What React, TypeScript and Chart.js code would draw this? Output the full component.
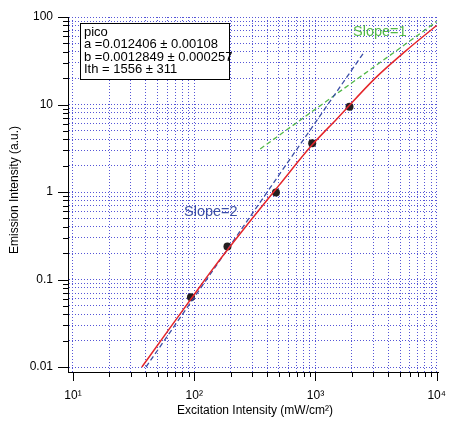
import { useEffect, useRef } from 'react';
import { Chart, registerables } from 'chart.js';

Chart.register(...registerables);

// Measured points
const pointX = [94, 188, 472, 940, 1910];
const pointY = [0.0626, 0.239, 0.99, 3.6, 9.45];

// Fit curve
const fitX = [37, 60, 95, 140, 250, 500, 940, 1500, 3100, 5500, 10000];
const fitY = [0.01, 0.0254, 0.061, 0.128, 0.361, 1.19, 3.46, 6.84, 19.9, 40.5, 80];

// Guide lines
const slope2X = [40, 2550];
const slope2Y = [0.01, 40.6];
const slope1X = [350, 10000];
const slope1Y = [3.1, 88.6];

// Axes
const xDecades = [10, 100, 1000, 10000];
const xTickLabels = ['10\u00b9', '10\u00b2', '10\u00b3', '10\u2074'];
const yDecades = [0.01, 0.1, 1, 10, 100];
const yTickLabels = ['0.01', '0.1', '1', '10', '100'];
const xRange = [9.1, 10250];
const yRange = [0.00877, 100];

const xTitle = 'Excitation Intensity (mW/cm\u00b2)';
const yTitle = 'Emission Intensity (a.u.)';
const legendLines = [
  'pico',
  'a =0.012406 \u00b1 0.00108',
  'b =0.0012849 \u00b1 0.000257',
  'Ith = 1556 \u00b1 311',
];
const slope1Label = 'Slope=1';
const slope2Label = 'Slope=2';

const FONT = '"Liberation Sans", Arial, Helvetica, sans-serif';
const RED = '#e4262b';
const BLUE = '#3b4ea6';
const GREEN = '#52b848';
const GRID = 'rgb(85,85,215)';

function logTicks(decades: number[], min: number, max: number) {
  const out: number[] = [];
  for (const d of decades) {
    for (let m = 1; m < 10; m++) {
      const v = +(d * m).toPrecision(6);
      if (v >= min && v <= max) out.push(v);
    }
  }
  return out;
}

const xTickValues = logTicks(xDecades, xRange[0], xRange[1]);
const yTickValues = logTicks(yDecades, yRange[0], yRange[1]);

const pts = (xs: number[], ys: number[]) => xs.map((x, i) => ({ x, y: ys[i] }));

const zeroPad = (s: any) => {
  s.paddingLeft = 0;
  s.paddingRight = 0;
  s.paddingTop = 0;
  s.paddingBottom = 0;
};

const overlay = {
  id: 'overlay',
  afterDraw(chart: any) {
    const ctx = chart.ctx as CanvasRenderingContext2D;
    const xs = chart.scales.x;
    const ys = chart.scales.y;
    const a = chart.chartArea;
    ctx.save();
    ctx.strokeStyle = '#000';
    ctx.lineWidth = 1;
    // tick marks
    for (const t of xs.ticks) {
      const px = Math.round(xs.getPixelForValue(t.value)) + 0.5;
      const major = xDecades.indexOf(t.value) >= 0;
      ctx.beginPath();
      ctx.moveTo(px, a.bottom);
      ctx.lineTo(px, a.bottom + (major ? 9 : 5));
      ctx.stroke();
    }
    for (const t of ys.ticks) {
      const py = Math.round(ys.getPixelForValue(t.value)) + 0.5;
      const major = yDecades.indexOf(t.value) >= 0;
      ctx.beginPath();
      ctx.moveTo(a.left, py);
      ctx.lineTo(a.left - (major ? 10 : 5), py);
      ctx.stroke();
    }
    // axis titles
    ctx.fillStyle = '#000';
    ctx.font = `12px ${FONT}`;
    ctx.textAlign = 'center';
    ctx.textBaseline = 'middle';
    ctx.fillText(xTitle, 255, 411);
    ctx.save();
    ctx.translate(15, 190);
    ctx.rotate(-Math.PI / 2);
    ctx.fillText(yTitle, 0, 0);
    ctx.restore();
    // legend box
    ctx.fillStyle = '#fff';
    ctx.fillRect(80, 23, 149, 56);
    ctx.strokeRect(80.5, 23.5, 149, 56);
    ctx.fillStyle = '#000';
    ctx.font = `13px ${FONT}`;
    ctx.textAlign = 'left';
    legendLines.forEach((line, i) => {
      ctx.fillText(line, 84, 32.5 + i * 12.4);
    });
    // slope labels
    ctx.font = `14.5px ${FONT}`;
    ctx.fillStyle = GREEN;
    ctx.fillText(slope1Label, 353, 31.5);
    ctx.fillStyle = BLUE;
    ctx.fillText(slope2Label, 184, 212);
    ctx.restore();
  },
};

export default function App() {
  const ref = useRef<HTMLCanvasElement>(null);
  useEffect(() => {
    const chart = new Chart(ref.current as HTMLCanvasElement, {
      type: 'scatter',
      data: {
        datasets: [
          {
            label: 'fit',
            data: pts(fitX, fitY),
            showLine: true,
            borderColor: RED,
            borderWidth: 1.5,
            pointRadius: 0,
            fill: false,
            cubicInterpolationMode: 'monotone',
          },
          {
            label: 'slope2',
            data: pts(slope2X, slope2Y),
            showLine: true,
            borderColor: BLUE,
            borderWidth: 1.3,
            borderDash: [5, 3],
            pointRadius: 0,
            fill: false,
          },
          {
            label: 'slope1',
            data: pts(slope1X, slope1Y),
            showLine: true,
            borderColor: GREEN,
            borderWidth: 1.3,
            borderDash: [5, 3],
            pointRadius: 0,
            fill: false,
          },
          {
            label: 'data',
            data: pts(pointX, pointY),
            showLine: false,
            pointRadius: 4,
            pointBackgroundColor: '#231f20',
            pointBorderWidth: 0,
          },
        ],
      } as any,
      options: {
        animation: false,
        responsive: false,
        devicePixelRatio: 1,
        layout: { padding: { left: 0, top: 17, right: 11, bottom: 0 } },
        plugins: { legend: { display: false }, tooltip: { enabled: false } },
        scales: {
          x: {
            type: 'logarithmic',
            position: 'bottom',
            min: xRange[0],
            max: xRange[1],
            afterBuildTicks: (s: any) => {
              s.ticks = xTickValues.map((v) => ({ value: v }));
            },
            afterFit: (s: any) => {
              s.height = 53;
              zeroPad(s);
            },
            ticks: {
              autoSkip: false,
              maxRotation: 0,
              minRotation: 0,
              padding: 16,
              color: '#000',
              font: { family: FONT, size: 12 },
              callback: (v: any) => {
                const i = xDecades.indexOf(v);
                return i >= 0 ? xTickLabels[i] : '';
              },
            },
            grid: { color: GRID, lineWidth: 1, drawTicks: false },
            border: { display: true, color: '#000', width: 1, dash: [1, 2] },
          },
          y: {
            type: 'logarithmic',
            position: 'left',
            min: yRange[0],
            max: yRange[1],
            afterBuildTicks: (s: any) => {
              s.ticks = yTickValues.map((v) => ({ value: v }));
            },
            afterFit: (s: any) => {
              s.width = 68;
              zeroPad(s);
            },
            ticks: {
              autoSkip: false,
              padding: 15,
              color: '#000',
              font: { family: FONT, size: 12 },
              callback: (v: any) => {
                const i = yDecades.indexOf(v);
                return i >= 0 ? yTickLabels[i] : '';
              },
            },
            grid: { color: GRID, lineWidth: 1, drawTicks: false },
            border: { display: true, color: '#000', width: 1, dash: [1, 2] },
          },
        },
      } as any,
      plugins: [overlay],
    });
    return () => chart.destroy();
  }, []);
  return (
    <div style={{ position: 'absolute', left: 0, top: 0, width: 449, height: 425, background: '#fff' }}>
      <canvas ref={ref} width={449} height={425} style={{ display: 'block' }} />
    </div>
  );
}
